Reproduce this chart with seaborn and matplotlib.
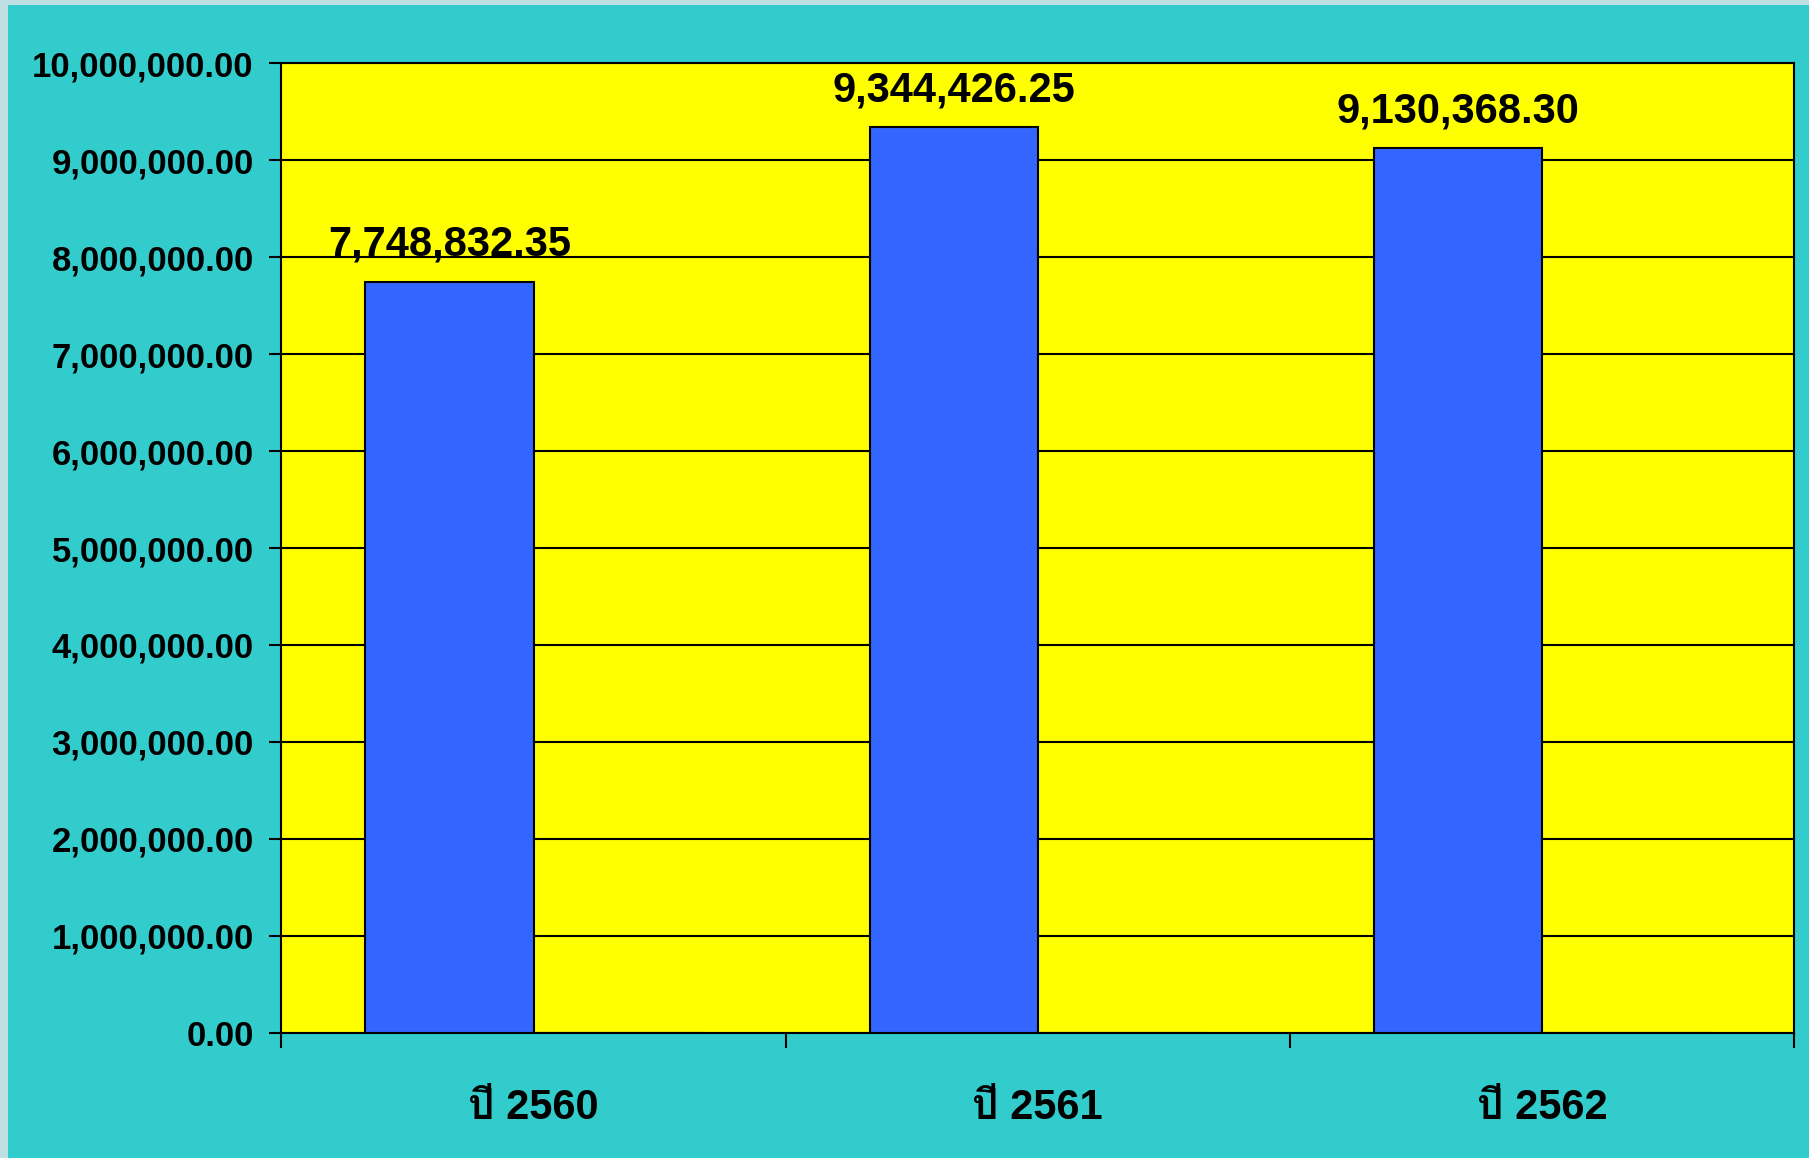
import matplotlib
matplotlib.use("Agg")
import matplotlib.pyplot as plt
import seaborn as sns
import pandas as pd
from matplotlib import font_manager, ft2font
from matplotlib.patches import Rectangle
from matplotlib.ticker import FuncFormatter

years = ["ปี 2560", "ปี 2561", "ปี 2562"]
series = ["งบประมาณ", "ว่าง"]
budget = [7748832.35, 9344426.25, 9130368.30]
empty = [0, 0, 0]
y_ticks = [0, 1000000, 2000000, 3000000, 4000000, 5000000,
           6000000, 7000000, 8000000, 9000000, 10000000]

# find a family that can draw Thai
thai = []
for f in font_manager.fontManager.ttflist:
    try:
        if 0x0E1B in ft2font.FT2Font(f.fname).get_charmap() and f.name not in thai:
            thai.append(f.name)
    except Exception:
        pass

sns.set_style("white")
plt.rcParams["font.family"] = ["Liberation Sans"] + thai + ["DejaVu Sans"]
plt.rcParams["font.weight"] = "bold"
plt.rcParams["text.color"] = "black"
plt.rcParams["xtick.color"] = "black"
plt.rcParams["ytick.color"] = "black"

df = pd.DataFrame({
    "year": years * 2,
    "series": [series[0]] * 3 + [series[1]] * 3,
    "value": budget + empty,
})

fig = plt.figure(figsize=(18.09, 11.58), dpi=100, facecolor="#BFE0E3")
fig.patches.append(Rectangle((8 / 1809, 0), 1, 1 - 5 / 1158,
                             transform=fig.transFigure, facecolor="#33CCCC",
                             edgecolor="none", zorder=-10))
ax = fig.add_axes([0.1556, 0.1083, 0.8361, 0.8369])
ax.set_facecolor("#FFFF00")

sns.barplot(data=df, x="year", y="value", hue="series", order=years,
            palette=["#3366FF", "#3366FF"], saturation=1, width=0.667,
            errorbar=None, edgecolor="black", linewidth=1.5, legend=False,
            ax=ax, zorder=3)

ax.bar_label(ax.containers[0], labels=[f"{v:,.2f}" for v in budget],
             padding=12, fontsize=30, fontweight="bold", color="black")

ax.set_xlim(-0.5, 2.5)
ax.set_ylim(0, 10000000)
ax.set_yticks(y_ticks)
ax.yaxis.set_major_formatter(FuncFormatter(lambda v, p: f"{v:,.2f}"))
ax.set_xticks([-0.5, 0.5, 1.5, 2.5], minor=True)
ax.grid(axis="y", color="black", linewidth=1.5)
ax.set_axisbelow(True)

ax.tick_params(axis="x", which="major", length=0, pad=40, labelsize=30,
               labelcolor="black")
ax.tick_params(axis="x", which="minor", length=11, width=1.5, color="black",
               direction="out", bottom=True)
ax.tick_params(axis="y", length=9, width=1.5, color="black", direction="out",
               pad=11, labelsize=25, left=True, labelcolor="black")
for lab in ax.get_xticklabels() + ax.get_yticklabels():
    lab.set_fontweight("bold")

for s in ax.spines.values():
    s.set_color("black")
    s.set_linewidth(1.5)

ax.set_xlabel("")
ax.set_ylabel("")

fig.savefig("out.png", dpi=100, facecolor=fig.get_facecolor())
